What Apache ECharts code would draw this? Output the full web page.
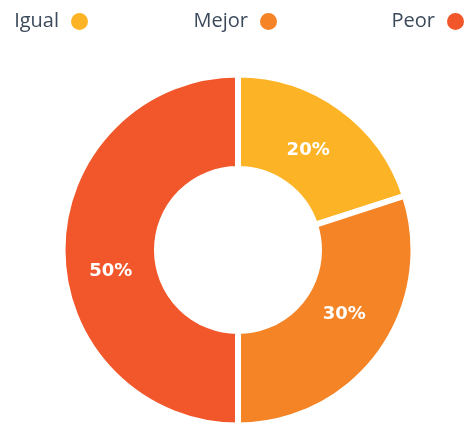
<!DOCTYPE html>
<html>
<head>
<meta charset="utf-8">
<script src="https://cdn.jsdelivr.net/npm/echarts@6/dist/echarts.min.js"></script>
<style>
  html, body { margin: 0; padding: 0; background: #ffffff; }
  #chart { width: 474px; height: 423px; }
</style>
</head>
<body>
<div id="chart"></div>
<script>
// Response categories and their share (%)
const categories = ['Igual', 'Mejor', 'Peor'];
const shares = [20, 30, 50];
const colors = ['#FCB426', '#F58426', '#F1572A'];

// small nudges applied to each slice's value label [dx, dy]
const labelNudge = [[-7, 7], [0, -13], [4, 21]];

const FONT = '"Open Sans", "Noto Sans", sans-serif';
const LABEL_FONT = '"DejaVu Sans", sans-serif';
const TEXT_COLOR = '#3C4A5C';

const chart = echarts.init(document.getElementById('chart'), null, { renderer: 'canvas' });

// one legend per category, each anchored by its right edge (icon on the right)
const legendRight = [384, 195, 8];
const legends = categories.map((name, i) => ({
  data: [name],
  right: legendRight[i],
  top: 11,
  padding: 0,
  align: 'right',
  icon: 'circle',
  itemWidth: 19,
  itemHeight: 19,
  selectedMode: false,
  textStyle: { fontFamily: FONT, fontSize: 20, color: TEXT_COLOR, padding: [0, 6, 0, 0] }
}));

chart.setOption({
  animation: false,
  color: colors,
  legend: legends,
  series: [{
    type: 'pie',
    center: [238, 250],
    radius: [81, 175.5],
    startAngle: 90,
    clockwise: true,
    silent: true,
    itemStyle: { borderColor: '#ffffff', borderWidth: 6 },
    label: {
      show: true,
      position: 'inside',
      formatter: '{c}%',
      color: '#ffffff',
      fontFamily: LABEL_FONT,
      fontWeight: 'bold',
      fontSize: 18
    },
    labelLine: { show: false },
    labelLayout: (p) => ({ dx: labelNudge[p.dataIndex][0], dy: labelNudge[p.dataIndex][1] }),
    data: categories.map((name, i) => ({ name, value: shares[i] }))
  }]
});
</script>
</body>
</html>
